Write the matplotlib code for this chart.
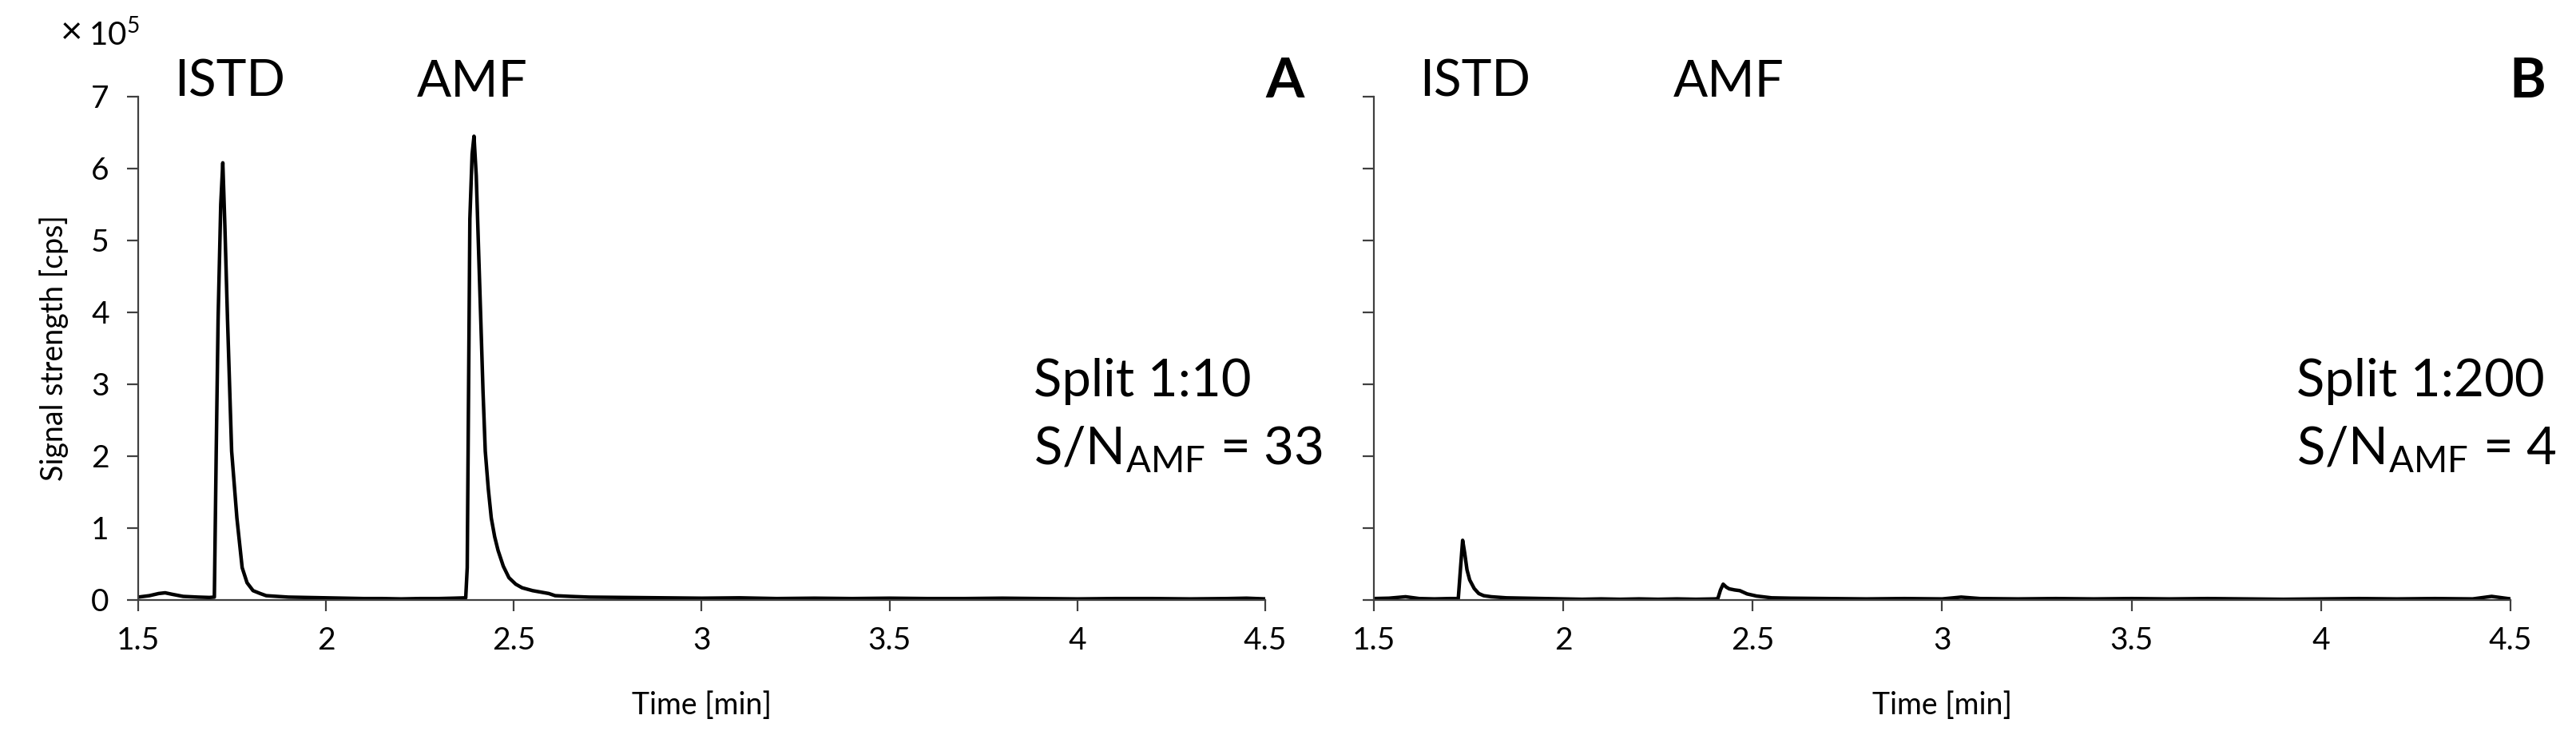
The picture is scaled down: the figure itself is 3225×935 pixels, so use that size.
import matplotlib
matplotlib.use("Agg")
import matplotlib.pyplot as plt

plt.rcParams['font.family'] = ['Lato', 'DejaVu Sans']
plt.rcParams['mathtext.fontset'] = 'custom'
plt.rcParams['mathtext.rm'] = 'Lato'

# panel A, split 1:10 (signal in 1e5 cps)
time_a = [1.50, 1.53, 1.555, 1.572, 1.59, 1.62, 1.66, 1.69, 1.703, 1.708, 1.713, 1.720, 1.7255,
          1.731, 1.738, 1.749, 1.763, 1.777, 1.79, 1.806, 1.825, 1.841, 1.87, 1.90, 1.95, 2.00,
          2.05, 2.10, 2.15, 2.20, 2.25, 2.30, 2.34, 2.372, 2.376, 2.383, 2.389, 2.394, 2.400,
          2.406, 2.412, 2.418, 2.424, 2.432, 2.440, 2.449, 2.458, 2.472, 2.487, 2.505, 2.522,
          2.55, 2.593, 2.61, 2.65, 2.70, 2.80, 2.90, 3.00, 3.10, 3.20, 3.30, 3.40, 3.50, 3.60,
          3.70, 3.80, 3.90, 4.00, 4.10, 4.20, 4.30, 4.40, 4.45, 4.50]
signal_a = [0.04, 0.06, 0.09, 0.10, 0.08, 0.05, 0.04, 0.035, 0.04, 2.07, 3.91, 5.5, 6.08,
            5.2, 3.91, 2.07, 1.14, 0.45, 0.24, 0.13, 0.09, 0.06, 0.05, 0.04, 0.035, 0.03,
            0.025, 0.02, 0.02, 0.015, 0.02, 0.02, 0.025, 0.03, 0.45, 5.3, 6.2, 6.45, 5.9,
            4.9, 3.91, 2.9, 2.07, 1.55, 1.14, 0.88, 0.69, 0.47, 0.31, 0.22, 0.17,
            0.13, 0.09, 0.06, 0.05, 0.04, 0.035, 0.03, 0.025, 0.03, 0.02, 0.025, 0.02, 0.025, 0.02,
            0.02, 0.025, 0.02, 0.015, 0.02, 0.02, 0.015, 0.02, 0.025, 0.015]

# panel B, split 1:200
time_b = [1.50, 1.54, 1.584, 1.62, 1.66, 1.70, 1.723, 1.729, 1.7345, 1.740, 1.746, 1.753,
          1.765, 1.777, 1.79, 1.81, 1.85, 1.90, 1.95, 2.00, 2.05, 2.10, 2.15, 2.20, 2.25,
          2.30, 2.35, 2.40, 2.408, 2.415, 2.422, 2.430, 2.438, 2.452, 2.466, 2.485, 2.51,
          2.55, 2.60, 2.70, 2.80, 2.90, 3.00, 3.05, 3.10, 3.20, 3.30, 3.40, 3.50, 3.60, 3.70,
          3.80, 3.90, 4.00, 4.10, 4.20, 4.30, 4.40, 4.45, 4.50]
signal_b = [0.02, 0.025, 0.045, 0.02, 0.015, 0.02, 0.02, 0.45, 0.83, 0.65, 0.42, 0.28,
            0.16, 0.09, 0.06, 0.045, 0.03, 0.025, 0.02, 0.015, 0.01, 0.015, 0.01, 0.015, 0.01,
            0.015, 0.01, 0.015, 0.02, 0.14, 0.22, 0.18, 0.155, 0.14, 0.13, 0.085, 0.055,
            0.03, 0.025, 0.02, 0.015, 0.02, 0.015, 0.04, 0.02, 0.015, 0.02, 0.015, 0.02, 0.015, 0.02,
            0.015, 0.01, 0.015, 0.02, 0.015, 0.02, 0.015, 0.05, 0.015]

x_ticks = [1.5, 2, 2.5, 3, 3.5, 4, 4.5]
y_ticks = [0, 1, 2, 3, 4, 5, 6, 7]

panels = [
    dict(t=time_a, s=signal_a, rect=[0.0536, 0.1968, 0.4376, 0.6738], letter='A',
         istd=1.745, amf=2.39, split='Split 1:10', sn='33', tx=3.883, lx=4.604),
    dict(t=time_b, s=signal_b, rect=[0.5333, 0.1968, 0.4413, 0.6738], letter='B',
         istd=1.768, amf=2.436, split='Split 1:200', sn='4', tx=3.935, lx=4.593),
]

fig = plt.figure(figsize=(16.125, 4.675), dpi=200)

for i, p in enumerate(panels):
    ax = fig.add_axes(p['rect'])
    ax.plot(p['t'], p['s'], color='black', lw=1.6, solid_joinstyle='round')
    ax.set_xlim(1.5, 4.5)
    ax.set_ylim(0, 7)
    ax.set_xticks(x_ticks)
    ax.set_xticklabels(['%g' % v for v in x_ticks])
    ax.set_yticks(y_ticks)
    ax.tick_params(labelsize=14, length=5, width=0.8, color='#404040', pad=8)
    ax.tick_params(axis='x', direction='out', pad=7)
    for side in ['top', 'right']:
        ax.spines[side].set_visible(False)
    for side in ['left', 'bottom']:
        ax.spines[side].set_linewidth(0.8)
        ax.spines[side].set_color('#404040')
    ax.set_xlabel('Time [min]', fontsize=13.5, labelpad=16)
    if i == 0:
        ax.set_ylabel('Signal strength [cps]', fontsize=13.5, labelpad=10)
    else:
        ax.set_yticklabels([])

    ax.text(p['istd'], 7.2, 'ISTD', fontsize=23, ha='center', va='center', clip_on=False)
    ax.text(p['amf'], 7.2, 'AMF', fontsize=23, ha='center', va='center', clip_on=False)
    ax.text(p['lx'], 7.55, p['letter'], fontsize=25, fontweight='bold', ha='right', va='top',
            clip_on=False)
    ax.text(p['tx'], 2.83, p['split'], fontsize=23.5, ha='left', va='baseline', clip_on=False)
    ax.text(p['tx'], 1.89, r'S/N$_\mathregular{AMF}$ = ' + p['sn'], fontsize=23.5, ha='left',
            va='baseline', clip_on=False)

fig.text(0.0235, 0.956, '×', fontsize=17, ha='left', va='center')
fig.text(0.0345, 0.953, r'10$^\mathregular{5}$', fontsize=14.5, ha='left', va='center')

fig.savefig('out.png', dpi=200)
